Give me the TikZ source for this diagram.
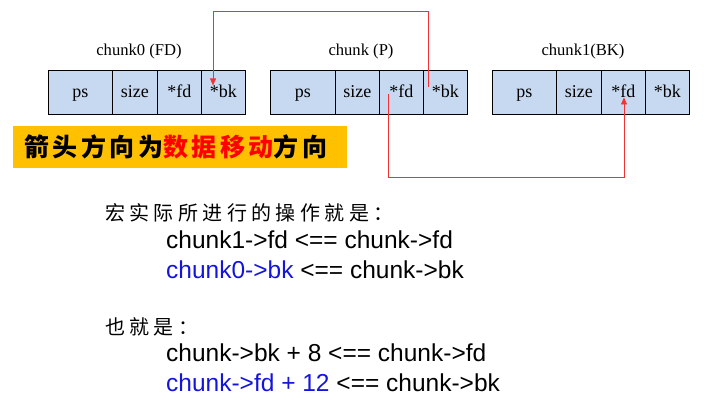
\documentclass[tikz,border=0pt]{standalone}
\usepackage{fontspec}
\setmainfont{Liberation Serif}
\newfontfamily\cjk[LetterSpace=22]{Noto Sans CJK SC}
\newfontfamily\bannerfont[LetterSpace=14]{Noto Sans CJK SC}
\newfontfamily\codefont{Liberation Sans}
\usetikzlibrary{arrows.meta}

\definecolor{cellblue}{RGB}{198,217,241}
\definecolor{bannergold}{RGB}{255,192,0}
\definecolor{linkred}{RGB}{245,50,50}
\definecolor{codeblue}{RGB}{20,20,220}

\tikzset{
  cell/.style={draw,fill=cellblue,line width=0.9pt,anchor=north west,inner sep=0pt,
    minimum height=44pt,text height=15pt,text depth=4pt,font=\fontsize{18}{20}\selectfont},
  title/.style={font=\fontsize{16.6}{19}\selectfont},
  link/.style={draw=linkred,line width=0.8pt,-{Triangle[length=7pt,width=6pt]}},
  code/.style={anchor=west,inner sep=0pt,font=\codefont\fontsize{24.5}{28}\selectfont},
  note/.style={anchor=west,inner sep=0pt,font=\cjk\fontsize{20}{22}\selectfont}
}

\begin{document}
\begin{tikzpicture}[x=1pt,y=-1pt]
\useasboundingbox (0,0) rectangle (709,411);

% chunk0 (FD)
\node[title] (t0) at (139,52) {chunk0 (FD)};
\node[cell,minimum width=64pt] (c0ps) at (48,70) {ps};
\node[cell,minimum width=45pt] (c0size) at (112,70) {size};
\node[cell,minimum width=44pt] (c0fd) at (157,70) {*fd};
\node[cell,minimum width=44pt] (c0bk) at (201,70) {*bk};

% chunk (P)
\node[title] (tp) at (361,52) {chunk (P)};
\node[cell,minimum width=65pt] (pps) at (270,70) {ps};
\node[cell,minimum width=44pt] (psize) at (335,70) {size};
\node[cell,minimum width=44pt] (pfd) at (379,70) {*fd};
\node[cell,minimum width=44pt] (pbk) at (423,70) {*bk};

% chunk1 (BK)
\node[title] (t1) at (583,52) {chunk1(BK)};
\node[cell,minimum width=64pt] (c1ps) at (492,70) {ps};
\node[cell,minimum width=45pt] (c1size) at (556,70) {size};
\node[cell,minimum width=44pt] (c1fd) at (601,70) {*fd};
\node[cell,minimum width=44pt] (c1bk) at (645,70) {*bk};

\draw[link] ([xshift=5pt,yshift=5pt]pbk.west) -- ++(0,-76) -| ([xshift=12pt,yshift=7pt]c0bk.west);
\draw[link] ([xshift=9pt,yshift=-2pt]pfd.west) -- ++(0,83) -| ([xshift=23pt,yshift=-5pt]c1fd.west);

% banner
\node[fill=bannergold,minimum width=334pt,minimum height=42pt,anchor=north west,inner sep=0pt] (banner) at (13,126) {};
\node[anchor=west,inner sep=0pt,font=\bannerfont\bfseries\fontsize{25}{28}\selectfont] (bannertext) at (24,147)
  {箭头方向为\textcolor{red}{数据移动}方向};

% operations
\node[note] (n1) at (105,213) {宏实际所进行的操作就是：};
\node[code] (l1) at (166,240) {chunk1->fd <== chunk->fd};
\node[code] (l2) at (166,270) {\textcolor{codeblue}{chunk0->bk} <== chunk->bk};
\node[note] (n2) at (105,327) {也就是：};
\node[code] (l3) at (166,353) {chunk->bk + 8 <== chunk->fd};
\node[code] (l4) at (166,383) {\textcolor{codeblue}{chunk->fd + 12} <== chunk->bk};
\end{tikzpicture}
\end{document}
